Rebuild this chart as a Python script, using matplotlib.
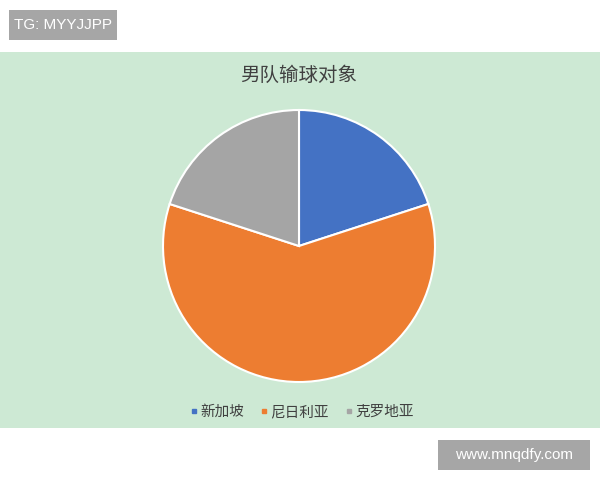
import matplotlib.pyplot as plt
from matplotlib.patches import Rectangle
from matplotlib.lines import Line2D

plt.rcParams['font.family'] = ['Noto Sans CJK SC', 'DejaVu Sans']

# data
countries = ['新加坡', '尼日利亚', '克罗地亚']
losses = [1, 3, 1]
colors = ['#4472C4', '#ED7D31', '#A5A5A5']
title = '男队输球对象'

W, H = 600, 480
fig = plt.figure(figsize=(6, 4.8), dpi=100)
fig.patch.set_facecolor('white')

# green chart area
fig.add_artist(Rectangle((0, (H - 428) / H), 1, (428 - 52) / H,
                         transform=fig.transFigure, facecolor='#CDE9D4',
                         edgecolor='none', zorder=0))

# watermark boxes
fig.add_artist(Rectangle((9 / W, (H - 40) / H), 108 / W, 30 / H,
                         transform=fig.transFigure, facecolor='#A6A6A6',
                         edgecolor='none'))
fig.text(63 / W, (H - 25) / H, 'TG: MYYJJPP', color='white', fontsize=11,
         ha='center', va='center', family=['Liberation Sans', 'DejaVu Sans'])
fig.add_artist(Rectangle((438 / W, (H - 470) / H), 152 / W, 30 / H,
                         transform=fig.transFigure, facecolor='#A6A6A6',
                         edgecolor='none'))
fig.text(514 / W, (H - 455) / H, 'www.mnqdfy.com', color='white', fontsize=11,
         ha='center', va='center', family=['Liberation Sans', 'DejaVu Sans'])

# title
fig.text(299 / W, (H - 75) / H, title, color='#404040', fontsize=14,
         ha='center', va='center')

# pie
cx, cy, r = 299, 246, 136
ax = fig.add_axes([(cx - r) / W, (H - cy - r) / H, 2 * r / W, 2 * r / H])
ax.pie(losses, colors=colors, startangle=90, counterclock=False,
       wedgeprops={'edgecolor': 'white', 'linewidth': 1.5})
ax.set_xlim(-1, 1)
ax.set_ylim(-1, 1)
ax.set_aspect('equal')
ax.axis('off')

# legend
handles = [Line2D([], [], marker='s', linestyle='none', markersize=3.5,
                  markerfacecolor=c, markeredgecolor=c) for c in colors]
fig.legend(handles, countries, loc='center', bbox_to_anchor=(302 / W, (H - 412) / H),
           ncol=3, frameon=False, fontsize=10.5, labelcolor='#404040',
           handletextpad=0.2, columnspacing=1.1, handlelength=0.5)

fig.savefig('out.png', dpi=100)
